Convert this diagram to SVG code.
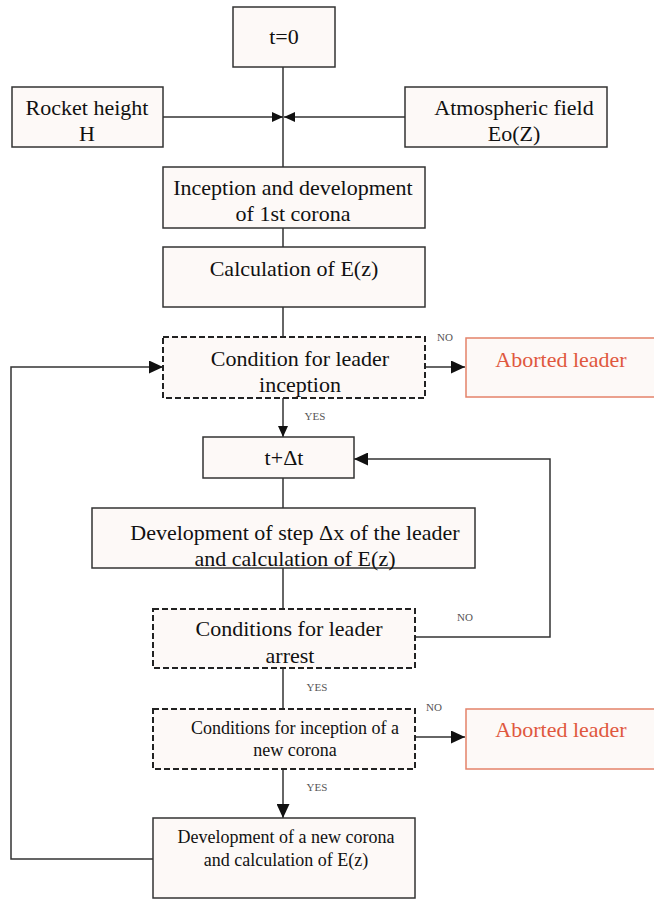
<svg xmlns="http://www.w3.org/2000/svg" width="654" height="899" viewBox="0 0 654 899">
<defs>
<marker id="arr" markerUnits="userSpaceOnUse" markerWidth="15" markerHeight="13" refX="14" refY="6.5" orient="auto">
<path d="M0,0 L14,6.5 L0,13 Z" fill="#111"/>
</marker>
<marker id="arrs" markerUnits="userSpaceOnUse" markerWidth="12" markerHeight="10" refX="11" refY="5" orient="auto">
<path d="M0,0 L11,5 L0,10 Z" fill="#111"/>
</marker>
<style>
.box{fill:#fdf9f7;stroke:#333;stroke-width:1.5}
.dash{fill:#fdf9f7;stroke:#222;stroke-width:2;stroke-dasharray:6,3}
.ab{fill:#fdf9f7;stroke:#e4826a;stroke-width:1.5}
text{font-family:'Liberation Serif','Times New Roman',serif;text-anchor:middle;fill:#111}
.t{font-size:22px}
.ts{font-size:18px}
.ta{font-size:22px;fill:#e0583e}
.lb{font-size:11px;fill:#555}
.c{fill:none;stroke:#333;stroke-width:1.5}
</style>
</defs>
<rect width="654" height="899" fill="#fff"/>
<g id="connectors">
<line class="c" x1="283" y1="67" x2="283" y2="167"/>
<line class="c" x1="163" y1="117" x2="283" y2="117" marker-end="url(#arrs)"/>
<line class="c" x1="405" y1="117" x2="284" y2="117" marker-end="url(#arrs)"/>
<line class="c" x1="283" y1="228" x2="283" y2="247"/>
<line class="c" x1="283" y1="307" x2="283" y2="337"/>
<line class="c" x1="425" y1="367" x2="465" y2="367" marker-end="url(#arr)"/>
<line class="c" x1="283" y1="398" x2="283" y2="437" marker-end="url(#arrs)"/>
<line class="c" x1="283" y1="478" x2="283" y2="508"/>
<line class="c" x1="283" y1="568" x2="283" y2="609"/>
<polyline class="c" points="415,637 550,637 550,459 354,459" marker-end="url(#arr)"/>
<line class="c" x1="283" y1="668" x2="283" y2="709"/>
<line class="c" x1="415" y1="737" x2="465" y2="737" marker-end="url(#arr)"/>
<line class="c" x1="283" y1="769" x2="283" y2="818" marker-end="url(#arr)"/>
<polyline class="c" points="153,859 11,859 11,367 163,367" marker-end="url(#arr)"/>
<text class="lb" x="445" y="341">NO</text>
<text class="lb" x="315" y="420">YES</text>
<text class="lb" x="465" y="621">NO</text>
<text class="lb" x="317" y="691">YES</text>
<text class="lb" x="434" y="711">NO</text>
<text class="lb" x="317" y="791">YES</text>
</g>
<g id="start"><rect class="box" x="233" y="7" width="102" height="60"/><text class="t" x="284" y="44">t=0</text></g>
<g id="rocket"><rect class="box" x="12" y="87" width="151" height="60"/><text class="t" x="87" y="115">Rocket height</text><text class="t" x="87" y="141">H</text></g>
<g id="atmos"><rect class="box" x="405" y="87" width="202" height="60"/><text class="t" x="514" y="115">Atmospheric field</text><text class="t" x="514" y="141">Eo(Z)</text></g>
<g id="inception"><rect class="box" x="163" y="167" width="262" height="61"/><text class="t" x="293" y="195">Inception and development</text><text class="t" x="293" y="221">of 1st corona</text></g>
<g id="calc"><rect class="box" x="163" y="247" width="262" height="60"/><text class="t" x="294" y="276">Calculation of E(z)</text></g>
<g id="cond1"><rect class="dash" x="163" y="337" width="262" height="61"/><text class="t" x="300" y="366">Condition for leader</text><text class="t" x="300" y="392">inception</text></g>
<g id="abort1"><rect class="ab" x="466" y="338" width="200" height="59"/><text class="ta" x="561" y="367">Aborted leader</text></g>
<g id="tdt"><rect class="box" x="203" y="437" width="151" height="41"/><text class="t" x="284" y="465">t+Δt</text></g>
<g id="devstep"><rect class="box" x="92" y="508" width="383" height="60"/><text class="t" x="295" y="540">Development of step Δx of the leader</text><text class="t" x="295" y="566">and calculation of E(z)</text></g>
<g id="arrest"><rect class="dash" x="153" y="609" width="262" height="59"/><text class="t" x="289" y="636">Conditions for leader</text><text class="t" x="290" y="663">arrest</text></g>
<g id="cond2"><rect class="dash" x="153" y="709" width="262" height="60"/><text class="ts" x="295" y="734">Conditions for inception of a</text><text class="ts" x="295" y="756">new corona</text></g>
<g id="abort2"><rect class="ab" x="466" y="709" width="200" height="60"/><text class="ta" x="561" y="737">Aborted leader</text></g>
<g id="newcorona"><rect class="box" x="153" y="818" width="262" height="80"/><text class="ts" x="286" y="843">Development of a new corona</text><text class="ts" x="286" y="866">and calculation of E(z)</text></g>
</svg>
